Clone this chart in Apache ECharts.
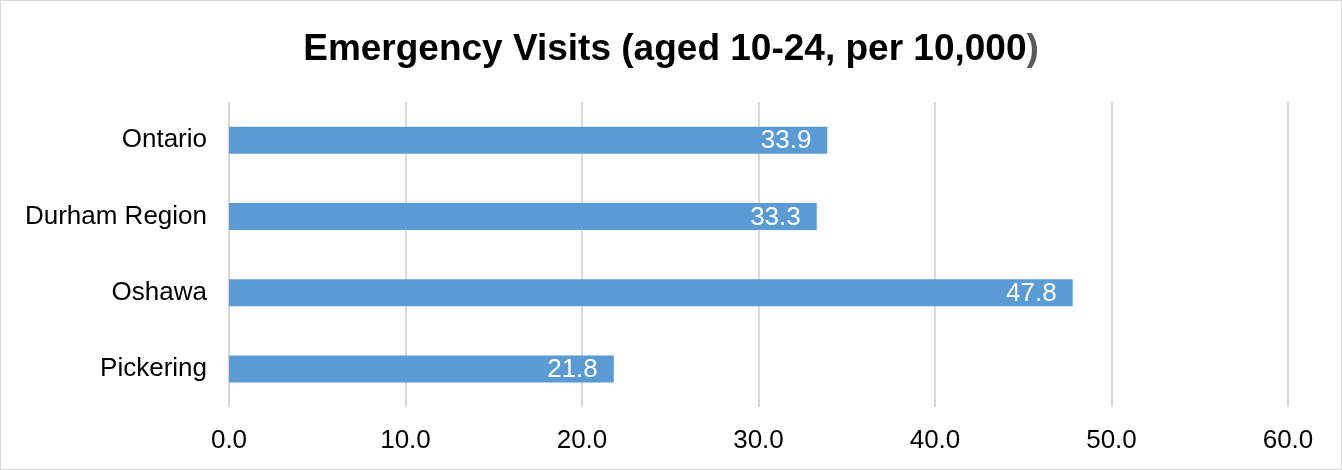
<!DOCTYPE html>
<html><head><meta charset="utf-8">
<script src="https://cdn.jsdelivr.net/npm/echarts@6/dist/echarts.min.js"></script>
<style>html,body{margin:0;padding:0;background:#fff}#c{width:1342px;height:470px;box-sizing:border-box;border:1px solid #d9d9d9}</style>
</head><body><div id="c"></div>
<script>
var categories = ['Ontario', 'Durham Region', 'Oshawa', 'Pickering'];
var values = [33.9, 33.3, 47.8, 21.8];
var xTicks = [0, 10, 20, 30, 40, 50, 60];
var chart = echarts.init(document.getElementById('c'));
chart.setOption({
  animation: false,
  title: {
    text: '{a|Emergency Visits (aged 10-24, per 10,000}{b|)}',
    left: 'center', top: 25,
    textStyle: {
      rich: {
        a: {fontFamily: 'Liberation Sans, Arial', fontWeight: 'bold', fontSize: 37, color: '#000'},
        b: {fontFamily: 'Liberation Sans, Arial', fontWeight: 'bold', fontSize: 37, color: '#595959'}
      }
    }
  },
  grid: {left: 228, right: 53, top: 101, bottom: 62, containLabel: false},
  xAxis: {
    type: 'value', min: xTicks[0], max: xTicks[xTicks.length - 1], interval: 10,
    axisLine: {show: false}, axisTick: {show: false},
    splitLine: {lineStyle: {color: '#d9d9d9', width: 2}},
    axisLabel: {color: '#000', fontSize: 26, fontFamily: 'Liberation Sans, Arial', margin: 21,
      formatter: function (v) { return v.toFixed(1); }}
  },
  yAxis: {
    type: 'category', inverse: true, data: categories,
    axisLine: {show: false}, axisTick: {show: false},
    axisLabel: {color: '#000', fontSize: 26, fontFamily: 'Liberation Sans, Arial', margin: 22}
  },
  series: [{
    type: 'bar', data: values, barWidth: 27,
    itemStyle: {color: '#5b9bd5'},
    label: {show: true, position: 'insideRight', color: '#fff', fontSize: 26,
      fontFamily: 'Liberation Sans, Arial', offset: [-11, 1],
      formatter: function (p) { return p.value.toFixed(1); }}
  }]
});
</script></body></html>
